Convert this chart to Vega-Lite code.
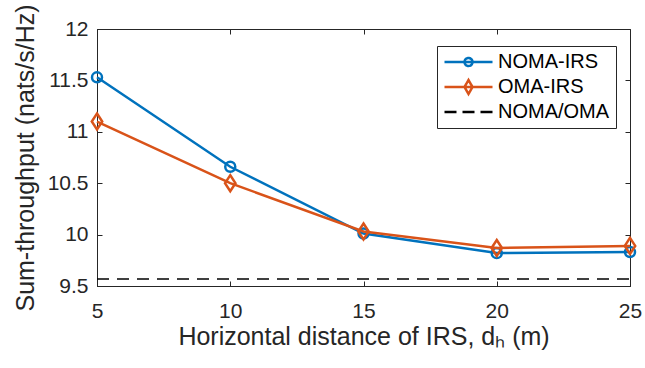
{
  "$schema": "https://vega.github.io/schema/vega-lite/v6.json",
  "width": 533,
  "height": 257,
  "autosize": {"type": "none"},
  "padding": {"left": 97, "top": 29, "right": 15, "bottom": 82},
  "background": "white",
  "config": {
    "view": {"stroke": "#262626", "strokeWidth": 1},
    "font": "Liberation Sans",
    "axis": {
      "grid": false,
      "domainColor": "#262626",
      "tickColor": "#262626",
      "labelColor": "#262626",
      "titleColor": "#262626",
      "labelFont": "Liberation Sans",
      "titleFont": "Liberation Sans",
      "labelFontSize": 21,
      "titleFontSize": 25,
      "titleFontWeight": "normal",
      "tickSize": -5,
      "tickWidth": 1,
      "domainWidth": 1,
      "labelFlush": false,
      "labelOverlap": false
    },
    "legend": {
      "labelFont": "Liberation Sans",
      "labelFontSize": 20,
      "labelColor": "#000000",
      "symbolStrokeWidth": 2.5,
      "symbolSize": 2304,
      "clipHeight": 20,
      "labelOffset": 4,
      "rowPadding": 5,
      "padding": 6,
      "strokeColor": "#262626",
      "fillColor": "white",
      "cornerRadius": 0
    }
  },
  "data": {
    "values": [
      {"x": 5, "series": "NOMA-IRS", "y": 11.53},
      {"x": 10, "series": "NOMA-IRS", "y": 10.66},
      {"x": 15, "series": "NOMA-IRS", "y": 10.01},
      {"x": 20, "series": "NOMA-IRS", "y": 9.82},
      {"x": 25, "series": "NOMA-IRS", "y": 9.83},
      {"x": 5, "series": "OMA-IRS", "y": 11.1},
      {"x": 10, "series": "OMA-IRS", "y": 10.5},
      {"x": 15, "series": "OMA-IRS", "y": 10.03},
      {"x": 20, "series": "OMA-IRS", "y": 9.87},
      {"x": 25, "series": "OMA-IRS", "y": 9.89},
      {"x": 5, "series": "NOMA/OMA", "y": 9.568},
      {"x": 10, "series": "NOMA/OMA", "y": 9.568},
      {"x": 15, "series": "NOMA/OMA", "y": 9.568},
      {"x": 20, "series": "NOMA/OMA", "y": 9.568},
      {"x": 25, "series": "NOMA/OMA", "y": 9.568}
    ]
  },
  "layer": [
    {
      "transform": [{"filter": "datum.series === 'NOMA-IRS'"}],
      "mark": {"type": "line", "color": "#0072BD", "strokeWidth": 2.5},
      "encoding": {
        "x": {
          "field": "x", "type": "quantitative",
          "scale": {"domain": [5, 25], "nice": false, "zero": false},
          "axis": {"orient": "bottom", "values": [5, 10, 15, 20, 25], "title": "Horizontal distance of IRS, dₕ (m)", "labelPadding": 19, "titlePadding": 3}
        },
        "y": {
          "field": "y", "type": "quantitative",
          "scale": {"domain": [9.5, 12], "nice": false, "zero": false},
          "axis": {"orient": "left", "values": [9.5, 10, 10.5, 11, 11.5, 12], "format": "~g", "title": "Sum-throughput (nats/s/Hz)", "labelPadding": 14, "titlePadding": 9}
        }
      }
    },
    {
      "transform": [{"filter": "datum.series === 'NOMA-IRS'"}],
      "mark": {"type": "point", "shape": "circle", "filled": false, "color": "#0072BD", "strokeWidth": 2.5, "size": 100, "opacity": 1},
      "encoding": {
        "x": {"field": "x", "type": "quantitative", "axis": null},
        "y": {"field": "y", "type": "quantitative", "axis": null}
      }
    },
    {
      "transform": [{"filter": "datum.series === 'OMA-IRS'"}],
      "mark": {"type": "line", "color": "#D95319", "strokeWidth": 2.5},
      "encoding": {
        "x": {"field": "x", "type": "quantitative", "axis": null},
        "y": {"field": "y", "type": "quantitative", "axis": null}
      }
    },
    {
      "transform": [{"filter": "datum.series === 'OMA-IRS'"}],
      "mark": {"type": "point", "shape": "M0,-0.89L0.58,0L0,0.89L-0.58,0Z", "filled": false, "color": "#D95319", "strokeWidth": 2.5, "size": 324, "opacity": 1},
      "encoding": {
        "x": {"field": "x", "type": "quantitative", "axis": null},
        "y": {"field": "y", "type": "quantitative", "axis": null}
      }
    },
    {
      "transform": [{"filter": "datum.series === 'NOMA/OMA'"}],
      "mark": {"type": "line", "color": "#000000", "strokeWidth": 1.4, "strokeDash": [12, 8]},
      "encoding": {
        "x": {"field": "x", "type": "quantitative", "axis": {"orient": "top", "values": [5, 10, 15, 20, 25], "labels": false, "title": null, "domain": false}},
        "y": {"field": "y", "type": "quantitative", "axis": {"orient": "right", "values": [9.5, 10, 10.5, 11, 11.5, 12], "labels": false, "title": null, "domain": false}}
      }
    },
    {
      "transform": [{"filter": "datum.x > 1000"}],
      "mark": {"type": "point", "filled": false, "opacity": 1},
      "encoding": {
        "x": {"field": "x", "type": "quantitative", "axis": null},
        "y": {"field": "y", "type": "quantitative", "axis": null},
        "color": {
          "field": "series", "type": "nominal",
          "scale": {"domain": ["NOMA-IRS", "OMA-IRS", "NOMA/OMA"], "range": ["#0072BD", "#D95319", "#000000"]},
          "legend": {"orient": "none", "legendX": 340, "legendY": 17, "title": null}
        },
        "shape": {
          "field": "series", "type": "nominal",
          "scale": {"domain": ["NOMA-IRS", "OMA-IRS", "NOMA/OMA"], "range": [
            "M-1,0H1M-0.167,0A0.167,0.167 0 1 0 0.167,0A0.167,0.167 0 1 0 -0.167,0",
            "M-1,0H1M0,-0.29L0.167,0L0,0.29L-0.167,0Z",
            "M-1,0H1"
          ]},
          "legend": {"orient": "none", "legendX": 340, "legendY": 17, "title": null}
        },
        "strokeDash": {
          "field": "series", "type": "nominal",
          "scale": {"domain": ["NOMA-IRS", "OMA-IRS", "NOMA/OMA"], "range": [[1, 0], [1, 0], [12, 6]]},
          "legend": {"orient": "none", "legendX": 340, "legendY": 17, "title": null}
        }
      }
    }
  ],
  "resolve": {"axis": {"x": "independent", "y": "independent"}}
}
